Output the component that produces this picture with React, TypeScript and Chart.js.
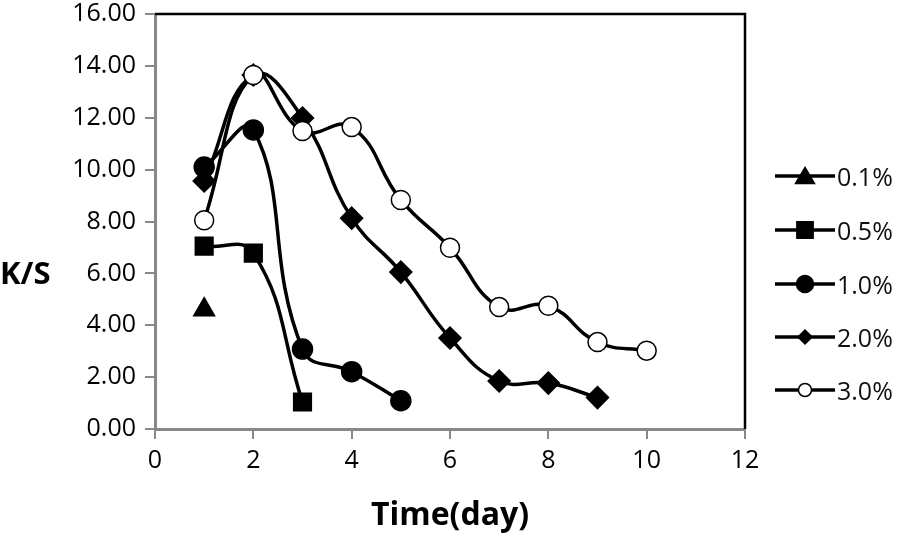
import React, { useEffect, useRef } from "react";
import { Chart, registerables } from "chart.js";

Chart.register(...registerables);

const seriesLabels = ["0.1%", "0.5%", "1.0%", "2.0%", "3.0%"];
const days01 = [1];
const vals01 = [4.6];
const days05 = [1, 2, 3];
const vals05 = [7.05, 6.78, 1.04];
const days10 = [1, 2, 3, 4, 5];
const vals10 = [10.1, 11.53, 3.08, 2.21, 1.09];
const days20 = [1, 2, 3, 4, 5, 6, 7, 8, 9];
const vals20 = [9.56, 13.65, 11.99, 8.13, 6.05, 3.51, 1.85, 1.77, 1.21];
const days30 = [1, 2, 3, 4, 5, 6, 7, 8, 9, 10];
const vals30 = [8.05, 13.65, 11.49, 11.64, 8.83, 6.99, 4.7, 4.75, 3.35, 3.02];
const xTicks = [0, 2, 4, 6, 8, 10, 12];
const yTicks = [0, 2, 4, 6, 8, 10, 12, 14, 16];

const FONT = "'Open Sans', 'Noto Sans', sans-serif";

type Marker = { style: string; radius: number; fill: string; legendRadius: number };
const markers: Marker[] = [
  { style: "triangle", radius: 12, fill: "#000", legendRadius: 10 },
  { style: "rect", radius: 12.5, fill: "#000", legendRadius: 11.5 },
  { style: "circle", radius: 10, fill: "#000", legendRadius: 8.5 },
  { style: "rectRot", radius: 11, fill: "#000", legendRadius: 7 },
  { style: "circle", radius: 9.5, fill: "#fff", legendRadius: 6.5 },
];

function toPts(xs: number[], ys: number[]) {
  return xs.map((x, i) => ({ x, y: ys[i] }));
}

function drawMarker(ctx: CanvasRenderingContext2D, style: string, x: number, y: number, r: number, fill: string) {
  ctx.save();
  ctx.beginPath();
  if (style === "circle") {
    ctx.arc(x, y, r, 0, Math.PI * 2);
  } else if (style === "rect") {
    const s = r * Math.SQRT1_2;
    ctx.rect(x - s, y - s, 2 * s, 2 * s);
  } else if (style === "rectRot") {
    ctx.moveTo(x, y - r);
    ctx.lineTo(x + r, y);
    ctx.lineTo(x, y + r);
    ctx.lineTo(x - r, y);
    ctx.closePath();
  } else if (style === "triangle") {
    const half = r * 0.95;
    ctx.moveTo(x, y - r * 0.85);
    ctx.lineTo(x + half, y + r * 0.75);
    ctx.lineTo(x - half, y + r * 0.75);
    ctx.closePath();
  }
  ctx.fillStyle = fill;
  ctx.fill();
  ctx.lineWidth = 1.5;
  ctx.strokeStyle = "#000";
  ctx.stroke();
  ctx.restore();
}

const extrasPlugin = {
  id: "extras",
  afterDraw(chart: any) {
    const ctx: CanvasRenderingContext2D = chart.ctx;
    const a = chart.chartArea;
    ctx.save();
    // top and right black border
    ctx.strokeStyle = "#000";
    ctx.lineWidth = 2.5;
    ctx.beginPath();
    ctx.moveTo(a.left, a.top);
    ctx.lineTo(a.right, a.top);
    ctx.lineTo(a.right, a.bottom);
    ctx.stroke();

    // axis titles
    ctx.fillStyle = "#000";
    ctx.font = `bold 32px ${FONT}`;
    ctx.textAlign = "center";
    ctx.textBaseline = "middle";
    ctx.fillText("Time(day)", (a.left + a.right) / 2, 516);
    ctx.textAlign = "left";
    ctx.font = `bold 31px ${FONT}`;
    ctx.fillText("K/S", 0, 275);

    // legend
    const rows = [176, 230, 284, 337, 390];
    ctx.font = `25px ${FONT}`;
    ctx.textBaseline = "middle";
    seriesLabels.forEach((lab, i) => {
      const y = rows[i];
      ctx.strokeStyle = "#000";
      ctx.lineWidth = 3.5;
      ctx.beginPath();
      ctx.moveTo(775, y);
      ctx.lineTo(835, y);
      ctx.stroke();
      const m = markers[i];
      drawMarker(ctx, m.style, 805, y, m.legendRadius, m.fill);
      ctx.fillStyle = "#111";
      ctx.textAlign = "left";
      ctx.fillText(lab, 837, y + 3);
    });
    ctx.restore();
  },
};

export default function App() {
  const ref = useRef<HTMLCanvasElement>(null);
  useEffect(() => {
    document.body.style.margin = "0";
    const allDays = [days01, days05, days10, days20, days30];
    const allVals = [vals01, vals05, vals10, vals20, vals30];
    const datasets = seriesLabels.map((label, i) => ({
      label,
      data: toPts(allDays[i], allVals[i]),
      order: seriesLabels.length - 1 - i,
      showLine: true,
      borderColor: "#000",
      borderWidth: 3.5,
      tension: 0.45,
      pointStyle: markers[i].style,
      pointRadius: markers[i].radius,
      pointBackgroundColor: markers[i].fill,
      pointBorderColor: "#000",
      pointBorderWidth: 1.5,
      pointHoverRadius: markers[i].radius,
    }));
    const chart = new Chart(ref.current!, {
      type: "scatter",
      data: { datasets },
      options: {
        animation: false,
        responsive: false,
        events: [],
        layout: { padding: { top: 14, right: 153, left: 0, bottom: 0 } },
        plugins: { legend: { display: false }, tooltip: { enabled: false } },
        scales: {
          x: {
            type: "linear",
            min: 0,
            max: 12,
            afterBuildTicks: (s: any) => {
              s.ticks = xTicks.map((v) => ({ value: v }));
            },
            afterFit: (s: any) => {
              s.height = 108;
              s.paddingLeft = 0;
              s.paddingRight = 0;
            },
            grid: { drawOnChartArea: false, color: "#888", tickLength: 10, lineWidth: 2 },
            border: { color: "#888", width: 3 },
            ticks: { color: "#000", font: { family: FONT, size: 25 }, padding: 7, maxRotation: 0 },
          },
          y: {
            type: "linear",
            min: 0,
            max: 16,
            afterBuildTicks: (s: any) => {
              s.ticks = yTicks.map((v) => ({ value: v }));
            },
            afterFit: (s: any) => {
              s.width = 155;
              s.paddingTop = 0;
              s.paddingBottom = 0;
            },
            grid: { drawOnChartArea: false, color: "#888", tickLength: 10, lineWidth: 2 },
            border: { color: "#888", width: 3 },
            ticks: {
              color: "#000",
              font: { family: FONT, size: 25 },
              padding: 9,
              callback: (v: any) => Number(v).toFixed(2),
            },
          },
        },
      },
      plugins: [extrasPlugin],
    });
    return () => chart.destroy();
  }, []);
  return (
    <div style={{ position: "absolute", left: 0, top: 0, width: 898, height: 537, background: "#fff" }}>
      <canvas ref={ref} width={898} height={537} />
    </div>
  );
}
